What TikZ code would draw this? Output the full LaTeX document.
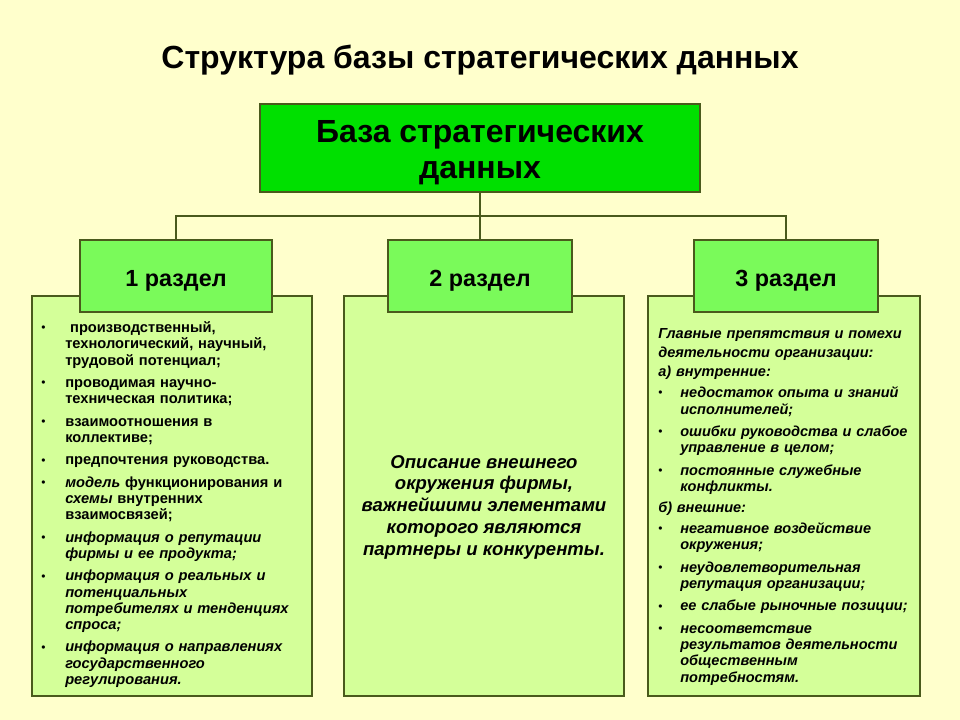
\documentclass[tikz,border=0pt]{standalone}
\usepackage{fontspec}
\setmainfont{Liberation Sans}
\definecolor{bg}{HTML}{FFFFCC}
\definecolor{boxfill}{HTML}{D4FF99}
\definecolor{headfill}{HTML}{7AFA5A}
\definecolor{topfill}{HTML}{00E000}
\definecolor{edge}{HTML}{4A5A1C}
\newlength{\bulw}
\setlength{\bulw}{18pt}
\newcommand{\bitem}[1]{\par\hangindent=\bulw\hangafter=1\noindent\makebox[\bulw][l]{\normalfont\fontsize{9pt}{9pt}\selectfont\raisebox{0.6pt}{\textbullet}}#1\par}
\newcommand{\isep}{\par\vspace{4.6pt}}
\tikzset{
  box/.style={draw=edge, line width=1.1pt, fill=boxfill, inner sep=0pt},
  headbox/.style={draw=edge, line width=1.1pt, fill=headfill, inner sep=0pt, font=\fontsize{17.5pt}{20pt}\selectfont\bfseries, minimum height=54pt},
  topbox/.style={draw=edge, line width=1.1pt, fill=topfill, inner sep=0pt, font=\fontsize{24pt}{27pt}\selectfont\bfseries, minimum width=330pt, minimum height=66pt},
  conn/.style={draw=edge, line width=1pt},
  listtext/.style={anchor=north west, inner sep=0pt, text width=205pt, font=\fontsize{11pt}{12.2pt}\selectfont\bfseries},
}
\begin{document}
\begin{tikzpicture}[x=0.75pt,y=-0.75pt]
\fill[bg] (0,0) rectangle (960,720);
\useasboundingbox (0,0) rectangle (960,720);

\node[font=\fontsize{24pt}{28pt}\selectfont\bfseries] (title) at (480,60) {Структура базы стратегических данных};

\node[topbox] (top) at (480,148) {\raisebox{-4pt}[\height][\depth]{\begin{tabular}{@{}c@{}}База стратегических\\данных\end{tabular}}};

\node[box, minimum width=210pt, minimum height=300pt] (c1) at (172,496) {};
\node[box, minimum width=210pt, minimum height=300pt] (c2) at (484,496) {};
\node[box, minimum width=204pt, minimum height=300pt] (c3) at (784,496) {};

\node[headbox, minimum width=144pt] (h1) at (176,276) {\raisebox{-3.5pt}[\height][\depth]{1 раздел}};
\node[headbox, minimum width=138pt] (h2) at (480,276) {\raisebox{-3.5pt}[\height][\depth]{2 раздел}};
\node[headbox, minimum width=138pt] (h3) at (786,276) {\raisebox{-3.5pt}[\height][\depth]{3 раздел}};

\coordinate (bus) at (480,216);
\draw[conn] (top.south) -- (h2.north);
\draw[conn] (h1.north) |- (bus) -| (h3.north);

\node[listtext] (t1) at (41,316) {\raggedright\setlength{\bulw}{18pt}%
\bitem{\ производственный,\newline технологический, научный,\newline трудовой потенциал;}\isep
\bitem{проводимая научно-\newline техническая политика;}\isep
\bitem{взаимоотношения в\newline коллективе;}\isep
\bitem{предпочтения руководства.}\isep
\bitem{\textit{модель} функционирования и\newline \textit{схемы} внутренних\newline взаимосвязей;}\isep
\bitem{\itshape информация о репутации\newline фирмы и ее продукта;}\isep
\bitem{\itshape информация о реальных и\newline потенциальных\newline потребителях и тенденциях\newline спроса;}\isep
\bitem{\itshape информация о направлениях\newline государственного\newline регулирования.}%
};

\node[anchor=center, align=center, inner sep=0pt, font=\fontsize{13.9pt}{16.3pt}\selectfont\bfseries\itshape] (t2) at (484,507)
{Описание внешнего\\окружения фирмы,\\важнейшими элементами\\которого являются\\партнеры и конкуренты.};

\node[listtext, text width=200pt, font=\fontsize{10.9pt}{12.2pt}\selectfont\bfseries] (t3) at (658,328) {\raggedright\itshape\setlength{\bulw}{16.5pt}%
\noindent Главные препятствия и помехи\par\vspace{2pt}%
\noindent деятельности организации:\par\vspace{2pt}%
\noindent а) внутренние:\par\vspace{4pt}%
\bitem{недостаток опыта и знаний\newline исполнителей;}\isep
\bitem{ошибки руководства и слабое\newline управление в целом;}\isep
\bitem{постоянные служебные\newline конфликты.}\par\vspace{3.6pt}%
\noindent б) внешние:\par\vspace{3.6pt}%
\bitem{негативное воздействие\newline окружения;}\isep
\bitem{неудовлетворительная\newline репутация организации;}\isep
\bitem{ее слабые рыночные позиции;}\isep
\bitem{несоответствие\newline результатов деятельности\newline общественным\newline потребностям.}%
};
\end{tikzpicture}
\end{document}
